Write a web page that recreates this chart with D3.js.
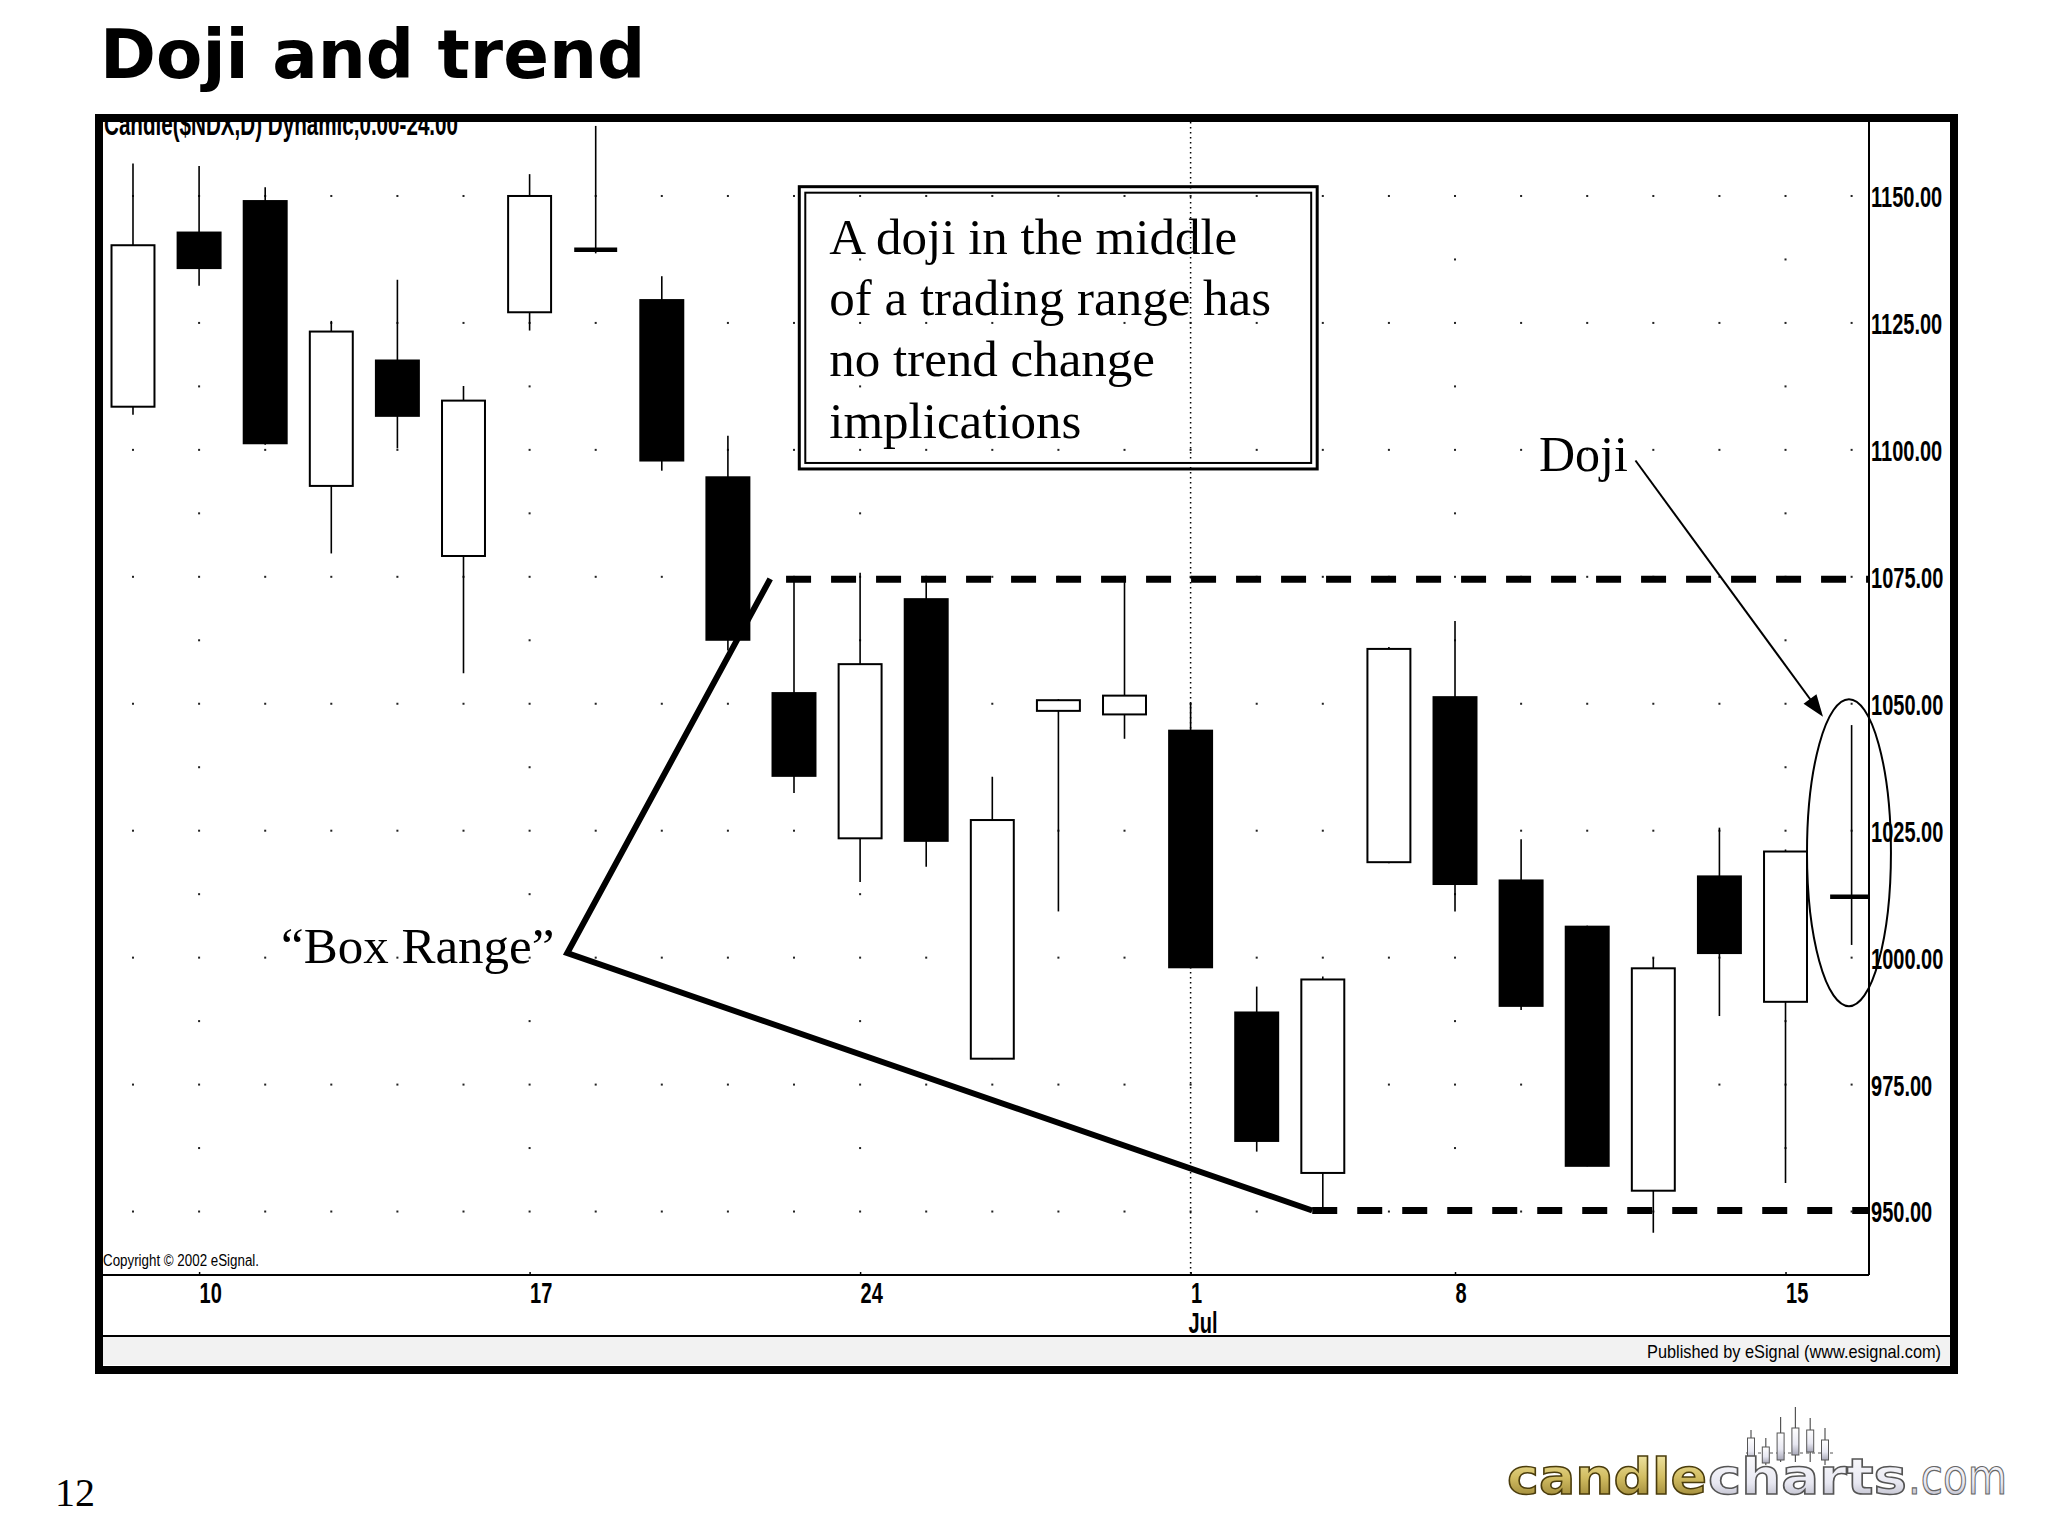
<!DOCTYPE html>
<html><head><meta charset="utf-8">
<script src="https://cdn.jsdelivr.net/npm/d3@7"></script>
<style>html,body{margin:0;padding:0;background:#fff;} svg{display:block;}</style>
</head><body>
<script>
// ---------- DATA ----------
const dates  = ["Jun 7","Jun 10","Jun 11","Jun 12","Jun 13","Jun 14","Jun 17","Jun 18","Jun 19","Jun 20","Jun 21",
                "Jun 24","Jun 25","Jun 26","Jun 27","Jun 28","Jul 1","Jul 2","Jul 3","Jul 5",
                "Jul 8","Jul 9","Jul 10","Jul 11","Jul 12","Jul 15","Jul 16"];
const opens  = [1108.5,1142.8,1149.0,1092.9,1117.6,1079.1,1127.1,1139.4,1129.5,1094.6,1052.1,
                1023.5,1070.6,980.1,1048.6,1047.9,1044.7,989.2,957.6,1018.8,
                1051.3,1015.2,1006.1,954.1,1016.0,991.3,1012.0];
const highs  = [1156.4,1155.9,1151.7,1125.4,1133.5,1112.6,1154.3,1163.8,1134.2,1102.8,1074.7,
                1075.8,1075.0,1035.6,1050.9,1075.0,1050.1,994.3,996.3,1061.2,
                1066.3,1023.3,1006.3,1000.0,1025.6,1021.3,1045.8];
const lows   = [1106.9,1132.3,1101.0,1079.6,1100.3,1056.0,1123.5,1138.7,1095.9,1060.5,1032.4,
                1014.9,1017.9,980.0,1009.1,1043.1,997.9,961.8,950.4,1018.6,
                1009.1,989.7,958.9,945.8,988.5,955.6,1002.5];
const closes = [1140.3,1135.8,1101.3,1123.3,1106.7,1109.7,1150.0,1139.4,1097.9,1062.6,1035.8,
                1057.8,1023.0,1027.1,1050.7,1051.6,998.1,963.9,995.7,1060.8,
                1014.5,990.5,959.0,997.9,1000.9,1020.9,1012.0];
const xTickIndex  = [1, 6, 11, 16, 20, 25];
const xTickLabels = ["10","17","24","1","8","15"];
const yTicks = [950, 975, 1000, 1025, 1050, 1075, 1100, 1125, 1150];
const rangeHigh = 1074.5, rangeLow = 950.2;
const boxRangeLine = [[9.64, 1074.6], [6.57, 1000.9], [17.84, 950.2]];
const noteLines = ["A doji in the middle", "of a trading range has", "no trend change", "implications"];
const logoCandles = [[27,35,3,5],[18,27,0,2],[32,48,3,5],[37,58,3,10],[35,47,3,13],[25,37,0,5]]; // top,high,low,bottom

// ---------- SETUP ----------
const W = 2048, H = 1536;
const L = 103, R = 1869, T = 122, B = 1275;
const svg = d3.select("body").append("svg").attr("width", W).attr("height", H);
svg.append("rect").attr("width", W).attr("height", H).attr("fill", "#fff");

const x = d3.scaleLinear().domain([-0.484, 26.263]).range([101, 1869]);
const y = d3.scaleLinear().domain([937.5, 1164.57]).range([B, T]);
const step = x(1) - x(0);
const bw = step * 0.65;

// Title
svg.append("text").attr("x", 100).attr("y", 78)
  .attr("font-family", "DejaVu Sans").attr("font-weight", "bold").attr("font-size", 67.5)
  .text("Doji and trend");

// clip for plot
const defs = svg.append("defs");
defs.append("clipPath").attr("id", "plotclip").append("rect")
  .attr("x", L).attr("y", T).attr("width", R - L).attr("height", B - T);

// bottom gray band
svg.append("rect").attr("x", L).attr("y", 1337).attr("width", 1950 - L).attr("height", 28).attr("fill", "#f2f2f2");
svg.append("line").attr("x1", L).attr("x2", 1950).attr("y1", 1336).attr("y2", 1336).attr("stroke", "#000").attr("stroke-width", 2);

const plot = svg.append("g").attr("clip-path", "url(#plotclip)");

// header text (clipped at top)
plot.append("text").attr("x", 104).attr("y", 135)
  .attr("font-family", "Liberation Sans").attr("font-weight", "bold").attr("font-size", 32)
  .attr("textLength", 354).attr("lengthAdjust", "spacingAndGlyphs")
  .text("Candle($NDX,D) Dynamic,0.00-24.00");

// grid dots
const dots = [];
yTicks.forEach(v => dates.forEach((d, i) => dots.push([i, v])));
yTicks.slice(0, -1).forEach(v => [1, 6, 11, 20, 25].forEach(i => dots.push([i, v + 12.5])));
plot.append("g").selectAll("rect").data(dots).join("rect")
  .attr("x", d => x(d[0]) - 1).attr("y", d => y(d[1]) - 1).attr("width", 2).attr("height", 2).attr("fill", "#222");

// Jul 1 dotted vertical line
plot.append("line").attr("x1", x(16)).attr("x2", x(16)).attr("y1", T).attr("y2", B)
  .attr("stroke", "#000").attr("stroke-width", 1.5).attr("stroke-dasharray", "1.5,3.5");

// candles
const candles = dates.map((d, i) => ({i, o: opens[i], h: highs[i], l: lows[i], c: closes[i]}));
const cg = plot.append("g");
cg.selectAll("line.wick").data(candles).join("line").attr("class", "wick")
  .attr("x1", d => x(d.i)).attr("x2", d => x(d.i)).attr("y1", d => y(d.h)).attr("y2", d => y(d.l))
  .attr("stroke", "#000").attr("stroke-width", 1.6);
cg.selectAll("rect.body").data(candles.filter(d => Math.abs(d.o - d.c) >= 0.3)).join("rect").attr("class", "body")
  .attr("x", d => x(d.i) - bw / 2).attr("width", bw)
  .attr("y", d => y(Math.max(d.o, d.c))).attr("height", d => y(Math.min(d.o, d.c)) - y(Math.max(d.o, d.c)))
  .attr("fill", d => d.c > d.o ? "#fff" : "#000").attr("stroke", "#000").attr("stroke-width", 2);
cg.selectAll("line.doji").data(candles.filter(d => Math.abs(d.o - d.c) < 0.3)).join("line").attr("class", "doji")
  .attr("x1", d => x(d.i) - bw / 2).attr("x2", d => x(d.i) + bw / 2).attr("y1", d => y(d.c)).attr("y2", d => y(d.c))
  .attr("stroke", "#000").attr("stroke-width", 4.5);

// box range lines
const ln = d3.line().x(d => x(d[0])).y(d => y(d[1]));
svg.append("path").attr("d", ln(boxRangeLine)).attr("fill", "none").attr("stroke", "#000")
  .attr("stroke-width", 6).attr("stroke-linejoin", "miter");
svg.append("path").attr("d", ln([[9.88, rangeHigh], [x.domain()[1], rangeHigh]])).attr("fill", "none")
  .attr("stroke", "#000").attr("stroke-width", 7).attr("stroke-dasharray", "25,20");
svg.append("path").attr("d", ln([[17.84, rangeLow], [x.domain()[1], rangeLow]])).attr("fill", "none")
  .attr("stroke", "#000").attr("stroke-width", 7).attr("stroke-dasharray", "25,20");

// axes lines
svg.append("line").attr("x1", R).attr("x2", R).attr("y1", T).attr("y2", B).attr("stroke", "#000").attr("stroke-width", 2);
svg.append("line").attr("x1", L).attr("x2", R).attr("y1", B).attr("y2", B).attr("stroke", "#000").attr("stroke-width", 2);

// y axis
const yAxis = svg.append("g").attr("transform", `translate(${R},0)`)
  .call(d3.axisRight(y).tickValues(yTicks).tickFormat(d3.format(".2f")).tickSize(0).tickPadding(0));
yAxis.select(".domain").remove();
yAxis.selectAll("text").attr("x", 0).attr("dy", "0.36em")
  .attr("transform", "translate(2,0) scale(0.69,1)")
  .attr("font-family", "Liberation Sans").attr("font-weight", "bold").attr("font-size", 29).attr("fill", "#000");

// x axis
const xAxis = svg.append("g").attr("transform", `translate(0,${B})`)
  .call(d3.axisBottom(x).tickValues(xTickIndex).tickFormat((d, i) => xTickLabels[i]).tickSizeInner(-3).tickSizeOuter(0));
xAxis.select(".domain").remove();
xAxis.selectAll("line").attr("stroke", "#000").attr("stroke-width", 1.5);
xAxis.selectAll("text").attr("x", 0).attr("y", 28).attr("dy", null).attr("text-anchor", "start")
  .attr("transform", "scale(0.69,1)")
  .attr("font-family", "Liberation Sans").attr("font-weight", "bold").attr("font-size", 29).attr("fill", "#000");
svg.append("text").attr("x", x(16) - 2).attr("y", 1333).attr("transform", `translate(${(x(16)-2)*(1-0.69)},0) scale(0.69,1)`)
  .attr("font-family", "Liberation Sans").attr("font-weight", "bold").attr("font-size", 29).text("Jul");

// copyright & published
svg.append("text").attr("x", 103).attr("y", 1266).attr("font-family", "Liberation Sans").attr("font-size", 16)
  .attr("textLength", 156).attr("lengthAdjust", "spacingAndGlyphs").text("Copyright \u00A9 2002 eSignal.");
svg.append("text").attr("x", 1647).attr("y", 1358).attr("font-family", "Liberation Sans").attr("font-size", 19)
  .attr("textLength", 294).attr("lengthAdjust", "spacingAndGlyphs").text("Published by eSignal (www.esignal.com)");

// annotation box
const bx0 = x(10.08), bx1 = x(17.915), by0 = y(1151.83), by1 = y(1096.24);
svg.append("rect").attr("x", bx0).attr("y", by0).attr("width", bx1 - bx0).attr("height", by1 - by0)
  .attr("fill", "none").attr("stroke", "#000").attr("stroke-width", 3);
svg.append("rect").attr("x", bx0 + 6).attr("y", by0 + 6).attr("width", bx1 - bx0 - 12).attr("height", by1 - by0 - 12)
  .attr("fill", "none").attr("stroke", "#000").attr("stroke-width", 2);
svg.append("g").selectAll("text").data(noteLines).join("text")
  .attr("x", bx0 + 30).attr("y", (d, i) => by0 + 67 + i * 61.4)
  .attr("font-family", "Liberation Serif").attr("font-size", 51).text(d => d);

// Box Range label
svg.append("text").attr("x", x(2.24)).attr("y", y(998.95))
  .attr("font-family", "Liberation Serif").attr("font-size", 51).text("\u201CBox Range\u201D");

// Doji label + arrow
svg.append("text").attr("x", x(21.27)).attr("y", y(1095.8))
  .attr("font-family", "Liberation Serif").attr("font-size", 50).text("Doji");
const ax0 = x(22.73), ay0 = y(1097.9), ax1 = x(25.567), ay1 = y(1047.45);
const dx = ax1 - ax0, dy = ay1 - ay0, len = Math.hypot(dx, dy), ux = dx / len, uy = dy / len;
const hl = 22, hw = 8;
svg.append("line").attr("x1", ax0).attr("y1", ay0).attr("x2", ax1 - ux * hl * 0.8).attr("y2", ay1 - uy * hl * 0.8)
  .attr("stroke", "#000").attr("stroke-width", 2);
svg.append("path").attr("d", `M${ax1},${ay1} L${ax1 - ux*hl - uy*hw},${ay1 - uy*hl + ux*hw} L${ax1 - ux*hl + uy*hw},${ay1 - uy*hl - ux*hw} Z`)
  .attr("fill", "#000");
// ellipse
svg.append("ellipse").attr("cx", x(25.96)).attr("cy", y(1020.67))
  .attr("rx", x(25.96 + 0.635) - x(25.96)).attr("ry", y(1020.67 - 30.23) - y(1020.67))
  .attr("fill", "none").attr("stroke", "#000").attr("stroke-width", 2);

// outer frame
svg.append("rect").attr("x", 99).attr("y", 118).attr("width", 1855).attr("height", 1252)
  .attr("fill", "none").attr("stroke", "#000").attr("stroke-width", 8);

// page number
svg.append("text").attr("x", 55).attr("y", 1506).attr("font-family", "Liberation Serif").attr("font-size", 40).text("12");

// logo
const gold = defs.append("linearGradient").attr("id", "gold").attr("x1", 0).attr("y1", 0).attr("x2", 0).attr("y2", 1);
gold.append("stop").attr("offset", "0%").attr("stop-color", "#f6eeb4");
gold.append("stop").attr("offset", "50%").attr("stop-color", "#d2bd62");
gold.append("stop").attr("offset", "100%").attr("stop-color", "#8a7428");
const silver = defs.append("linearGradient").attr("id", "silver").attr("x1", 0).attr("y1", 0).attr("x2", 0).attr("y2", 1);
silver.append("stop").attr("offset", "0%").attr("stop-color", "#ffffff");
silver.append("stop").attr("offset", "60%").attr("stop-color", "#e8e8f2");
silver.append("stop").attr("offset", "100%").attr("stop-color", "#a8a8b8");
const logo = svg.append("g");
const lx = d3.scaleLinear().domain([0, 5]).range([1751, 1825]);
const ly = d3.scaleLinear().domain([0, 60]).range([1465, 1405]);
logo.append("line").attr("x1", 1746).attr("x2", 1836).attr("y1", ly(12)).attr("y2", ly(12))
  .attr("stroke", "#555").attr("stroke-width", 1).attr("stroke-dasharray", "3,3");
logo.selectAll("line.lw").data(logoCandles).join("line").attr("class", "lw")
  .attr("x1", (d, i) => lx(i)).attr("x2", (d, i) => lx(i)).attr("y1", d => ly(d[1])).attr("y2", d => ly(d[2]))
  .attr("stroke", "#555").attr("stroke-width", 1.2);
logo.selectAll("rect").data(logoCandles).join("rect")
  .attr("x", (d, i) => lx(i) - 3.5).attr("width", 7).attr("y", d => ly(d[0])).attr("height", d => ly(d[3]) - ly(d[0]))
  .attr("fill", "url(#silver)").attr("stroke", "#555").attr("stroke-width", 1);
logo.append("text").attr("x", 1507).attr("y", 1494).attr("font-family", "DejaVu Sans").attr("font-weight", "bold")
  .attr("font-size", 50).attr("textLength", 200).attr("lengthAdjust", "spacingAndGlyphs")
  .attr("fill", "url(#gold)").attr("stroke", "#4a3c0c").attr("stroke-width", 1.5).text("candle");
logo.append("text").attr("x", 1708).attr("y", 1494).attr("font-family", "DejaVu Sans").attr("font-weight", "bold")
  .attr("font-size", 50).attr("textLength", 199).attr("lengthAdjust", "spacingAndGlyphs")
  .attr("fill", "url(#silver)").attr("stroke", "#555").attr("stroke-width", 1.5).text("charts");
logo.append("text").attr("x", 1908).attr("y", 1494).attr("font-family", "DejaVu Sans")
  .attr("font-size", 50).attr("textLength", 99).attr("lengthAdjust", "spacingAndGlyphs")
  .attr("fill", "url(#silver)").attr("stroke", "#666").attr("stroke-width", 1.2).text(".com");
</script>
</body></html>
